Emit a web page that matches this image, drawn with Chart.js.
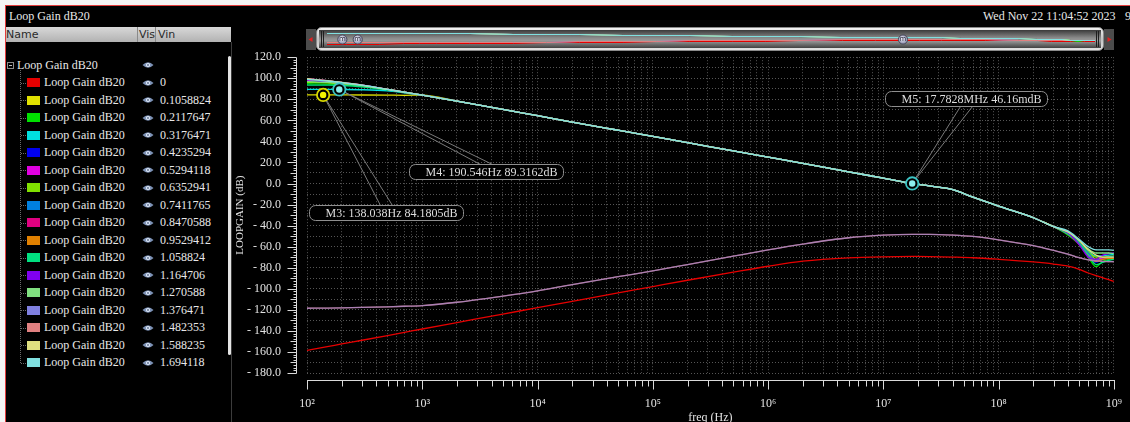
<!DOCTYPE html>
<html>
<head>
<meta charset="utf-8">
<title>Loop Gain dB20</title>
<script src="https://cdn.jsdelivr.net/npm/chart.js@4.4.1/dist/chart.umd.min.js"></script>
<style>
  html, body { margin:0; padding:0; width:1130px; height:422px; overflow:hidden; background:#f4f4f4; }
  body { position:relative; font-family:"Liberation Serif","DejaVu Serif",serif; }
  #win { position:absolute; left:5px; top:5px; width:1130px; height:422px; background:#000;
         border-left:1px solid #e23c3c; border-top:1px solid #e23c3c; }
  .txt { position:absolute; color:#e8e8e8; font-size:12px; line-height:14px; white-space:pre; }
  #hdr { position:absolute; left:6px; top:27px; width:225px; height:15px;
         background:linear-gradient(#d8d8d8,#b2b2b2); }
  #hdr span { position:absolute; top:1px; font:11px "DejaVu Sans",sans-serif; color:#2a2a2a; line-height:13px; }
  #hdr i { position:absolute; top:0; width:1px; height:15px; background:#8a8a8a; }
  #sep { position:absolute; left:231px; top:42px; width:1px; height:380px; background:#3c3c3c; }
  #thumb { position:absolute; left:228px; top:56px; width:3px; height:299px; background:#e4e4e4; border-radius:2px; }
  .swatch { position:absolute; width:13px; height:9px; }
  .dotv { position:absolute; border-left:1px dotted #6a6a6a; width:0; }
  .doth { position:absolute; border-top:1px dotted #6a6a6a; height:0; width:5px; }
  .eye { position:absolute; width:12px; height:8px; line-height:0; }
  .eye svg { display:block; }
  .rootbox { position:absolute; left:7px; top:62px; width:5px; height:5px; border:1px solid #8a8a8a; }
  .rootbox::after { content:""; position:absolute; left:1px; top:2px; width:3px; height:1px; background:#bdbdbd; }
  canvas#plot { position:absolute; left:232px; top:24px; }
</style>
</head>
<body>
<div id="win"></div>
<div class="txt" style="left:9px;top:9px;">Loop Gain dB20</div>
<div class="txt" style="left:983px;top:9px;">Wed Nov 22 11:04:52 2023</div>
<div class="txt" style="left:1125px;top:9px;">9</div>
<div id="hdr"><span style="left:0">Name</span><i style="left:131px"></i><span style="left:133px">Vis</span><i style="left:149px"></i><span style="left:152px">Vin</span></div>
<div id="sep"></div>
<div id="thumb"></div>
<div id="tree"></div>
<canvas id="plot" width="914" height="403"></canvas>
<script>
// ---- sweep: Vin steps and trace colours ----
const vinSteps = ['0','0.1058824','0.2117647','0.3176471','0.4235294','0.5294118','0.6352941','0.7411765',
  '0.8470588','0.9529412','1.058824','1.164706','1.270588','1.376471','1.482353','1.588235','1.694118'];
const traceColors = ['#e60000','#e0e000','#00e000','#00e0e0','#0000ee','#e000e0','#80e000','#0080e0',
  '#e00080','#e08000','#00e080','#8000f0','#80e080','#8080e0','#e08080','#e0e080','#80e0e0'];
const traceName = 'Loop Gain dB20';

// ---- frequency points (Hz) ----
const freqLowHz  = [100, 150, 200, 300, 500, 700];
const freqMidHz  = [1e3, 2e3, 5e3, 1e4, 2e4, 5e4, 1e5, 2e5, 5e5, 1e6, 2e6, 5e6, 1e7, 1.778e7, 2.5e7, 4e7, 6e7, 1e8, 2e8, 3e8];
const freqTailHz = [4e8, 5e8, 6e8, 7e8, 8e8, 9e8, 1e9];

// ---- loop gain (dB) ----
// shared mid band of the active traces
const bundleMidDb = [84.0, 78.2, 70.4, 64.4, 58.4, 50.6, 44.7, 38.8, 31.0, 25.1, 19.2, 11.0, 5.2, 0.05, -2.3, -5.8, -13.0, -21.5, -32.5, -41.0];
// active traces: low band (100–700 Hz) and tail (400 MHz–1 GHz), one row per Vin
const bundleVin = ['0.1058824','0.2117647','0.3176471','0.4235294','0.5294118','0.6352941','0.7411765',
  '0.8470588','0.9529412','1.058824','1.164706','1.270588','1.588235','1.694118'];
const bundleLowDb = [
  [84.21, 84.18, 84.15, 84.1, 83.95, 83.8],
  [94.8, 94.5, 94.0, 92.4, 89.1, 86.6],
  [89.40, 89.35, 89.32, 89.1, 88.0, 86.1],
  [97.6, 96.6, 95.3, 93.1, 89.3, 86.7],
  [98.3, 97.0, 95.6, 93.3, 89.4, 86.7],
  [96.2, 95.7, 94.8, 92.9, 89.2, 86.7],
  [99.0, 97.3, 95.8, 93.4, 89.4, 86.8],
  [99.5, 97.6, 96.0, 93.5, 89.5, 86.8],
  [99.3, 97.5, 95.9, 93.5, 89.5, 86.8],
  [93.5, 93.4, 93.1, 91.9, 88.9, 86.5],
  [99.4, 97.6, 95.9, 93.4, 89.5, 86.8],
  [96.8, 96.1, 95.0, 93.0, 89.3, 86.7],
  [99.6, 97.7, 96.0, 93.5, 89.5, 86.8],
  [99.0, 97.4, 95.8, 93.4, 89.4, 86.8]
];
const bundleTailDb = [
  [-47, -56, -66, -72, -71, -70.5, -70],
  [-49, -58, -70, -79, -74, -72, -71.5],
  [-46, -55, -64, -69, -68.5, -68, -67.5],
  [-48, -57, -69, -75, -72, -71, -70.5],
  [-47, -56, -67, -73, -71, -70, -70],
  [-47, -55, -65, -70, -70, -69.5, -69],
  [-47, -56, -66, -73, -72, -70, -69.5],
  [-48, -58, -69, -74, -72, -71, -71],
  [-48, -57, -68, -74, -72, -71, -71],
  [-48, -57, -68, -77, -75, -73, -72],
  [-47, -58, -70, -72, -68, -66.5, -66],
  [-46, -54, -62, -66, -66, -66, -66.5],
  [-46, -54, -63, -68, -70, -70, -70],
  [-45, -53, -60, -63, -63, -63, -63.5]
];
// Vin = 0 (loop open) over all points
const gainVinZeroDb = [-158.5, -155.0, -152.4, -148.9, -144.4, -141.4,
  -138.2, -132.1, -124.0, -118.0, -111.9, -103.9, -97.9, -91.9, -84.2, -78.6, -73.8, -70.6, -69.6, -69.3, -69.4, -69.9, -70.5, -72.0, -74.5, -76.5,
  -78.5, -81.5, -85.0, -87.5, -89.5, -91.3, -93.0];
// Vin = 1.376471 and 1.482353 (coincident traces)
const gainHighVinDb = [-118.5, -118.3, -118.1, -117.7, -117.1, -116.6,
  -115.9, -112.8, -107.0, -102.0, -96.0, -88.5, -83.0, -77.0, -69.0, -63.0, -57.5, -51.5, -49.0, -48.3, -48.3, -49.0, -50.3, -53.5, -59.0, -63.5,
  -67.0, -70.5, -72.5, -73.5, -74.0, -74.2, -74.3];

// ---- markers ----
const markerNames  = ['M3', 'M4', 'M5'];
const markerFreqHz = [138.038, 190.546, 17.7828e6];
const markerGainDb = [84.1805, 89.3162, 0.04616];

// ---- axes ----
const xMin = 100, xMax = 1e9;
const yMin = -180, yMax = 120;
const xDecades = [2, 3, 4, 5, 6, 7, 8];
const supDigits = ['\u2070','\u00b9','\u00b2','\u00b3','\u2074','\u2075','\u2076','\u2077','\u2078','\u2079'];

const freqHz = [...freqLowHz, ...freqMidHz, ...freqTailHz];

function traceValues(vin) {
  if (vin === '0') return gainVinZeroDb;
  if (vin === '1.376471' || vin === '1.482353') return gainHighVinDb;
  const k = bundleVin.indexOf(vin);
  return [...bundleLowDb[k], ...bundleMidDb, ...bundleTailDb[k]];
}

// ---- tree / legend panel ----
const eyeSvg = '<svg width="12" height="8" viewBox="0 0 12 8"><path d="M0.5 4 Q6 -1.5 11.5 4 Q6 9.5 0.5 4Z" fill="#7d92b6"/>' +
  '<circle cx="6" cy="4" r="2.1" fill="#e2eaf6"/><circle cx="6" cy="4" r="0.9" fill="#56698c"/></svg>';
(function buildTree() {
  const tree = document.getElementById('tree');
  let html = '<div class="rootbox"></div>';
  html += `<div class="txt" style="left:17px;top:58px;">${traceName}</div>`;
  html += `<div class="eye" style="left:142px;top:61px;">${eyeSvg}</div>`;
  html += '<div class="dotv" style="left:20px;top:70px;height:293px;"></div>';
  vinSteps.forEach((vin, i) => {
    const cy = 82.7 + 17.5 * i;
    html += `<div class="doth" style="left:21px;top:${cy.toFixed(1)}px;"></div>`;
    html += `<div class="swatch" style="left:27px;top:${(cy - 4.5).toFixed(1)}px;background:${traceColors[i]};"></div>`;
    html += `<div class="txt" style="left:44px;top:${(cy - 7.5).toFixed(1)}px;">${traceName}</div>`;
    html += `<div class="eye" style="left:142px;top:${(cy - 4).toFixed(1)}px;">${eyeSvg}</div>`;
    html += `<div class="txt" style="left:160px;top:${(cy - 7.5).toFixed(1)}px;">${vin}</div>`;
  });
  tree.innerHTML = html;
})();

// ---- helpers ----
function roundRectPath(ctx, x, y, w, h, r) {
  ctx.beginPath();
  ctx.moveTo(x + r, y);
  ctx.lineTo(x + w - r, y); ctx.arcTo(x + w, y, x + w, y + r, r);
  ctx.lineTo(x + w, y + h - r); ctx.arcTo(x + w, y + h, x + w - r, y + h, r);
  ctx.lineTo(x + r, y + h); ctx.arcTo(x, y + h, x, y + h - r, r);
  ctx.lineTo(x, y + r); ctx.arcTo(x, y, x + r, y, r);
  ctx.closePath();
}
function isDecade(v) {
  const e = Math.round(Math.log10(v));
  return Math.abs(v - Math.pow(10, e)) < 1e-6 * v;
}
function fmtFreq(f) {
  if (f >= 1e6) return +(f / 1e6).toPrecision(6) + 'MHz';
  if (f >= 1e3) return +(f / 1e3).toPrecision(6) + 'kHz';
  return +f.toPrecision(6) + 'Hz';
}
function fmtGain(g) {
  if (Math.abs(g) < 1) return +(g * 1000).toPrecision(4) + 'mdB';
  return +g.toPrecision(6) + 'dB';
}

const xTickValues = [];
xDecades.forEach(e => { for (let m = 1; m <= 9; m++) xTickValues.push(m * Math.pow(10, e)); });
xTickValues.push(xMax);
const yGridValues = [];
for (let v = yMin; v <= yMax; v += 10) yGridValues.push(v);

const WIN_X = 232, WIN_Y = 24; // canvas origin in window coordinates
const markerLabelOffset = [[-14.5, 110.5], [70, 75], [-27, -92.5]];
const markerRing = [['#d8d800', '#f4f400'], ['#3cc4c4', '#8ceeee'], ['#3cc4c4', '#8ceeee']];

// overview strip above the plot (scroll bar with thumbnails of the traces)
const overviewPlugin = {
  id: 'overview',
  afterDraw(chart) {
    const ctx = chart.ctx;
    ctx.save();
    ctx.translate(-WIN_X, -WIN_Y);
    ctx.fillStyle = '#4c4c4c';
    ctx.fillRect(306, 29, 10, 21);
    ctx.fillRect(1104, 29, 10, 21);
    ctx.fillStyle = '#e42020';
    ctx.beginPath(); ctx.moveTo(308.5, 39.5); ctx.lineTo(312.5, 37); ctx.lineTo(312.5, 42); ctx.closePath(); ctx.fill();
    ctx.beginPath(); ctx.moveTo(1111.5, 39.5); ctx.lineTo(1107.5, 37); ctx.lineTo(1107.5, 42); ctx.closePath(); ctx.fill();

    const g = ctx.createLinearGradient(0, 27, 0, 51);
    g.addColorStop(0, '#f6f6f6'); g.addColorStop(0.5, '#c2c2c2'); g.addColorStop(1, '#e6e6e6');
    roundRectPath(ctx, 316.5, 27.5, 787, 23, 5);
    ctx.fillStyle = g; ctx.fill();
    ctx.strokeStyle = '#8a8a8a'; ctx.lineWidth = 1; ctx.stroke();

    const g2 = ctx.createLinearGradient(0, 30, 0, 48);
    g2.addColorStop(0, '#3a3a3a'); g2.addColorStop(0.45, '#8c8c8c'); g2.addColorStop(0.6, '#9a9a9a'); g2.addColorStop(1, '#424242');
    ctx.fillStyle = g2;
    ctx.fillRect(319, 30, 782, 18);

    ctx.strokeStyle = '#1e1e1e'; ctx.lineWidth = 1;
    ctx.beginPath();
    [321.5, 323.5, 1096.5, 1098.5].forEach(px => { ctx.moveTo(px, 31); ctx.lineTo(px, 47); });
    ctx.stroke();

    const ox = f => 327 + (Math.log10(f) - 2) / 7 * 768;
    const oy = d => Math.min(47, Math.max(31, 32.5 + (100 - d) * 0.045));
    ctx.save();
    ctx.beginPath(); ctx.rect(325, 30, 770, 18); ctx.clip();
    for (let i = 0; i < vinSteps.length; i++) {
      const vals = traceValues(vinSteps[i]);
      ctx.strokeStyle = traceColors[i];
      ctx.beginPath();
      freqHz.forEach((f, k) => { const px = ox(f), py = Math.round(oy(vals[k])) + 0.5; k ? ctx.lineTo(px, py) : ctx.moveTo(px, py); });
      ctx.stroke();
    }
    ctx.restore();

    ctx.font = '7px "DejaVu Sans", sans-serif';
    ctx.textAlign = 'center'; ctx.textBaseline = 'middle';
    markerFreqHz.forEach(f => {
      const cx = ox(f), cy = 39.5;
      const rg = ctx.createRadialGradient(cx - 1, cy - 1.5, 0.5, cx, cy, 5);
      rg.addColorStop(0, '#f0f0fa'); rg.addColorStop(1, '#8486a6');
      ctx.beginPath(); ctx.arc(cx, cy, 4.6, 0, Math.PI * 2);
      ctx.fillStyle = rg; ctx.fill();
      ctx.strokeStyle = '#4a4a5a'; ctx.stroke();
      ctx.fillStyle = '#303040';
      ctx.fillText('m', cx, cy);
    });
    ctx.restore();
  }
};

// detached axis lines with major / minor tick marks
const axesPlugin = {
  id: 'frameAxes',
  afterDraw(chart) {
    const { ctx, chartArea: a, scales: { x, y } } = chart;
    ctx.save();
    ctx.strokeStyle = '#dadada'; ctx.lineWidth = 1;
    ctx.beginPath();
    const ax = Math.round(a.left - 11) + 0.5;
    ctx.moveTo(ax, Math.round(y.getPixelForValue(yMax)) + 0.5);
    ctx.lineTo(ax, Math.round(y.getPixelForValue(yMin)) + 0.5);
    for (let v = yMin; v <= yMax; v += 2.5) {
      const py = Math.round(y.getPixelForValue(v)) + 0.5;
      const len = (v % 20 === 0) ? 9 : (v % 10 === 0 ? 6 : 3);
      ctx.moveTo(ax - len, py); ctx.lineTo(ax, py);
    }
    const ay = Math.round(a.bottom + 7) + 0.5;
    ctx.moveTo(Math.round(x.getPixelForValue(xMin)), ay);
    ctx.lineTo(Math.round(x.getPixelForValue(xMax)) + 1, ay);
    xTickValues.forEach(v => {
      const px = Math.round(x.getPixelForValue(v)) + 0.5;
      const len = isDecade(v) ? 9 : 6;
      ctx.moveTo(px, ay); ctx.lineTo(px, ay + len);
    });
    ctx.stroke();
    ctx.restore();
  }
};

// marker circles with their readout boxes
const markerPlugin = {
  id: 'markers',
  afterDatasetsDraw(chart) {
    const { ctx, scales: { x, y } } = chart;
    ctx.save();
    ctx.font = '12px "Liberation Serif", serif';
    markerNames.forEach((name, i) => {
      const px = x.getPixelForValue(markerFreqHz[i]);
      const py = y.getPixelForValue(markerGainDb[i]);
      const label = `${name}: ${fmtFreq(markerFreqHz[i])} ${fmtGain(markerGainDb[i])}`;
      const bw = Math.round(ctx.measureText(label).width + 22), bh = 15;
      const bx = Math.round(px + markerLabelOffset[i][0]) + 0.5;
      const by = Math.round(py + markerLabelOffset[i][1]) + 0.5;
      const edgeY = by > py ? by : by + bh;
      const mid = bx + bw / 2;
      ctx.strokeStyle = '#7a7a7a'; ctx.lineWidth = 1;
      ctx.beginPath();
      ctx.moveTo(px, py); ctx.lineTo(mid - 6, edgeY);
      ctx.moveTo(px, py); ctx.lineTo(mid + 6, edgeY);
      ctx.stroke();
      roundRectPath(ctx, bx, by, bw, bh, 6);
      ctx.fillStyle = '#000'; ctx.fill();
      ctx.strokeStyle = '#8e8e8e'; ctx.stroke();
      ctx.fillStyle = '#dedede'; ctx.textAlign = 'left'; ctx.textBaseline = 'middle';
      ctx.fillText(label, bx + 16, by + bh / 2 + 0.5);
      ctx.beginPath(); ctx.arc(px, py, 6.2, 0, Math.PI * 2);
      ctx.fillStyle = '#000'; ctx.fill();
      ctx.lineWidth = 1.8; ctx.strokeStyle = markerRing[i][0]; ctx.stroke();
      ctx.beginPath(); ctx.arc(px, py, 3.2, 0, Math.PI * 2);
      ctx.fillStyle = markerRing[i][1]; ctx.fill();
    });
    ctx.restore();
  }
};

// later Vin steps are drawn on top
const datasets = vinSteps.map((vin, i) => ({
  label: `${traceName} ${vin}`,
  data: freqHz.map((f, k) => ({ x: f, y: traceValues(vin)[k] })),
  borderColor: vin === '1.376471' ? 'rgba(128,128,224,0.55)' : traceColors[i],
  borderWidth: 1.3,
  pointRadius: 0,
  cubicInterpolationMode: 'monotone',
  fill: false,
  order: vin === '1.376471' ? 0 : vinSteps.length - i
}));

const axisFont = { family: '"Liberation Serif", "DejaVu Serif", serif', size: 12 };
new Chart(document.getElementById('plot'), {
  type: 'line',
  data: { datasets },
  options: {
    responsive: false,
    animation: false,
    events: [],
    layout: { padding: { top: 33, right: 32, left: 0, bottom: 0 } },
    plugins: { legend: { display: false }, tooltip: { enabled: false } },
    scales: {
      x: {
        type: 'logarithmic', min: xMin, max: xMax,
        afterBuildTicks: s => { s.ticks = xTickValues.map(v => ({ value: v })); },
        afterFit: s => { s.height = 54; },
        ticks: {
          autoSkip: false, maxRotation: 0, minRotation: 0, padding: 24, color: '#e2e2e2', font: axisFont,
          callback: v => isDecade(v) ? '10' + supDigits[Math.round(Math.log10(v))] : ''
        },
        grid: { color: '#555555', lineWidth: 1, drawTicks: false },
        border: { display: false, dash: [1, 2] },
        title: { display: true, text: 'freq (Hz)', color: '#e2e2e2', font: axisFont, padding: { top: 0, bottom: 2 } }
      },
      y: {
        type: 'linear', min: yMin, max: yMax,
        afterBuildTicks: s => { s.ticks = yGridValues.map(v => ({ value: v })); },
        afterFit: s => { s.width = 75; },
        ticks: {
          autoSkip: false, padding: 26, color: '#e2e2e2', font: axisFont,
          callback: v => (v % 20 !== 0) ? '' : (v < 0 ? '- ' + (-v).toFixed(1) : v.toFixed(1))
        },
        grid: { color: '#555555', lineWidth: 1, drawTicks: false },
        border: { display: false, dash: [1, 2] },
        title: { display: true, text: 'LOOPGAIN (dB)', color: '#e2e2e2',
                 font: { family: axisFont.family, size: 11 }, padding: { top: 2, bottom: 0 } }
      }
    }
  },
  plugins: [overviewPlugin, axesPlugin, markerPlugin]
});
</script>
</body>
</html>
